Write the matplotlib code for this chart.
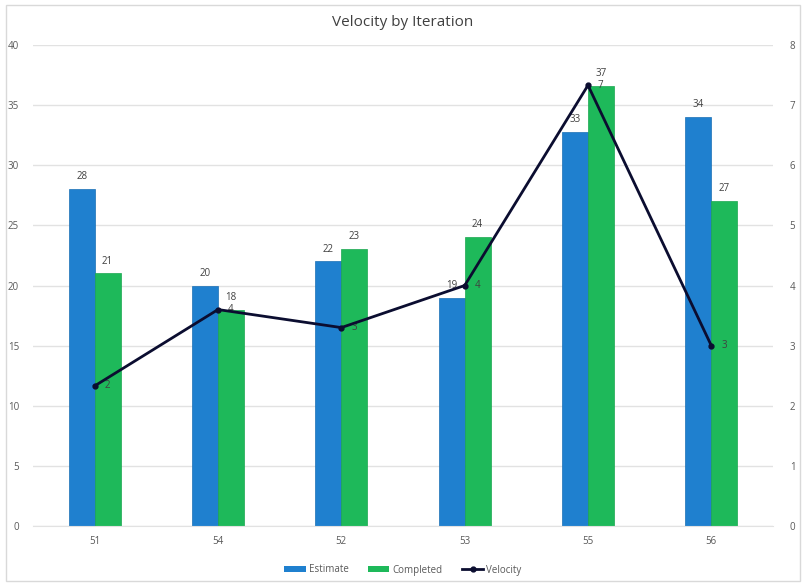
import matplotlib.pyplot as plt
import numpy as np
from matplotlib.lines import Line2D
from matplotlib.patches import Patch, Rectangle

iterations = ["51", "54", "52", "53", "55", "56"]
estimate = [28, 20, 22, 19, 32.8, 34]
completed = [21, 18, 23, 24, 36.6, 27]
velocity = [2.33, 3.6, 3.3, 4.0, 7.33, 3.0]

BLUE = "#1f80cf"
GREEN = "#1eb95a"
NAVY = "#0b0d30"
GRID = "#e2e2e2"
TXT = "#595959"

plt.rcParams["font.family"] = ["Open Sans", "DejaVu Sans"]

fig = plt.figure(figsize=(8.06, 5.87), dpi=100)
fig.patches.append(Rectangle((6 / 806, 1 - 581 / 587), 794 / 806, 576 / 587,
                             transform=fig.transFigure, fill=False,
                             edgecolor="#d9d9d9", linewidth=1))
ax = fig.add_axes([33 / 806, 1 - 526 / 587, 740 / 806, 481 / 587])
ax2 = ax.twinx()

x = np.arange(len(iterations))
w = 0.21
ax.bar(x - w / 2, estimate, w, color=BLUE, edgecolor="#1a6fb5", linewidth=0.5, zorder=2)
ax.bar(x + w / 2, completed, w, color=GREEN, edgecolor="#1aa64f", linewidth=0.5, zorder=2)
for xi, v in zip(x, estimate):
    ax.annotate(f"{v:.0f}", (xi - w / 2, v), xytext=(0, 5), textcoords="offset points",
                ha="center", va="bottom", fontsize=7, color="#404040")
for xi, v in zip(x, completed):
    ax.annotate(f"{v:.0f}", (xi + w / 2, v), xytext=(0, 5), textcoords="offset points",
                ha="center", va="bottom", fontsize=7, color="#404040")

ax.set_ylim(0, 40)
ax.set_yticks(range(0, 41, 5))
ax.set_xlim(-0.5, len(iterations) - 0.5)
ax.set_xticks(x)
ax.set_xticklabels(iterations)
ax.grid(axis="y", color=GRID, linewidth=1, zorder=0)
ax.set_axisbelow(True)
for s in ax.spines.values():
    s.set_visible(False)
ax.spines["bottom"].set_visible(True)
ax.spines["bottom"].set_color(GRID)
ax.tick_params(axis="y", length=0, labelsize=7, labelcolor=TXT, pad=10)
ax.tick_params(axis="x", length=0, labelsize=7, labelcolor=TXT, pad=7)

ax2.plot(x, velocity, color=NAVY, linewidth=2, marker="o", markersize=3.5, zorder=5)
for xi, v in zip(x, velocity):
    ax2.annotate(f"{v:.0f}", (xi, v), xytext=(7, 0), textcoords="offset points",
                 ha="left", va="center", fontsize=7, color="#404040")
ax2.set_ylim(0, 8)
ax2.set_yticks(range(0, 9))
for s in ax2.spines.values():
    s.set_visible(False)
ax2.tick_params(axis="y", length=0, labelsize=7, labelcolor=TXT, pad=12)

fig.text(0.5, 1 - 22 / 587, "Velocity by Iteration", ha="center", va="center",
         fontsize=11, color="#404040")

handles = [Patch(facecolor=BLUE, label="Estimate"),
           Patch(facecolor=GREEN, label="Completed"),
           Line2D([0], [0], color=NAVY, linewidth=2, marker="o", markersize=3.5, label="Velocity")]
fig.legend(handles=handles, loc="center", bbox_to_anchor=(0.5, 1 - 570 / 587), ncol=3,
           frameon=False, fontsize=7, labelcolor=TXT, handlelength=2.2,
           handleheight=0.5, columnspacing=2, handletextpad=0.3)

fig.savefig("out.png", dpi=100, facecolor="white")
